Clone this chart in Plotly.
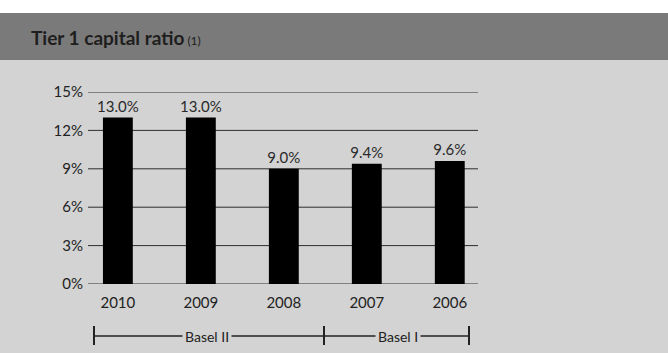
import plotly.graph_objects as go

years = ["2010", "2009", "2008", "2007", "2006"]
tier1_ratio = [13.0, 13.0, 9.0, 9.4, 9.6]
y_ticks = [0, 3, 6, 9, 12, 15]
regimes = ["Basel II", "Basel I"]

BG = "#d3d3d3"
BAND = "#7a7a7a"
FONT = "Lato, 'Open Sans', sans-serif"

W, H = 668, 353
L, R, T, B = 88, 190, 92, 69
plot_h = H - T - B
plot_w = W - L - R


def py(px):
    """pixel row -> paper y"""
    return (H - B - px) / plot_h


def px_x(px):
    """pixel column -> paper x"""
    return (px - L) / plot_w


fig = go.Figure()
fig.add_trace(go.Bar(
    x=list(range(len(years))),
    y=tier1_ratio,
    width=0.36,
    marker=dict(color="black", line=dict(width=0)),
    text=[f"{v:.1f}%" for v in tier1_ratio],
    textposition="outside",
    constraintext="none",
    textfont=dict(size=15, color="#2a2a2a", family=FONT),
    cliponaxis=False,
))

shapes = [
    # white strip above the header
    dict(type="rect", xref="paper", yref="paper", x0=px_x(0), x1=px_x(W),
         y0=py(13), y1=py(0), fillcolor="white", line=dict(width=0), layer="below"),
    # header band
    dict(type="rect", xref="paper", yref="paper", x0=px_x(0), x1=px_x(W),
         y0=py(60), y1=py(13), fillcolor=BAND, line=dict(width=0), layer="below"),
]

# horizontal grid, including the 0% and 15% lines
for v in y_ticks:
    shapes.append(dict(type="line", xref="paper", yref="y", x0=0, x1=1, y0=v, y1=v,
                       line=dict(color="#2e2e2e", width=1), layer="below"))

# regime bracket under the axis
bx = [px_x(94), px_x(324), px_x(469)]
by = py(336)
shapes.append(dict(type="line", xref="paper", yref="paper", x0=bx[0], x1=bx[2],
                   y0=by, y1=by, line=dict(color="#222", width=1.5)))
for x in bx:
    shapes.append(dict(type="line", xref="paper", yref="paper", x0=x, x1=x,
                       y0=py(345), y1=py(326), line=dict(color="#222", width=2)))

annotations = [
    dict(text="<b>Tier 1 capital ratio</b><span style='font-size:12px'> (1)</span>",
         xref="paper", yref="paper", x=px_x(29), y=py(37), xanchor="left", yanchor="middle",
         showarrow=False, font=dict(size=19, color="#1e1e1e", family=FONT)),
    dict(text=regimes[0], xref="paper", yref="paper", x=px_x(207), y=by,
         xanchor="center", yanchor="middle", showarrow=False, bgcolor=BG,
         borderpad=2, font=dict(size=14, color="#222", family=FONT)),
    dict(text=regimes[1], xref="paper", yref="paper", x=px_x(398), y=by,
         xanchor="center", yanchor="middle", showarrow=False, bgcolor=BG,
         borderpad=2, font=dict(size=14, color="#222", family=FONT)),
]

fig.update_layout(
    width=W, height=H,
    margin=dict(l=L, r=R, t=T, b=B),
    paper_bgcolor=BG, plot_bgcolor=BG,
    showlegend=False,
    shapes=shapes,
    annotations=annotations,
    xaxis=dict(
        range=[-0.36, 4.34],
        tickvals=list(range(len(years))), ticktext=years,
        showgrid=False, zeroline=False, showline=False,
        tickfont=dict(size=15, color="#222", family=FONT),
        ticks="", ticklabelstandoff=8, fixedrange=True,
    ),
    yaxis=dict(
        range=[0, 15], tickvals=y_ticks, ticktext=[f"{v}%" for v in y_ticks],
        showgrid=False, zeroline=False, showline=False, ticks="",
        tickfont=dict(size=15, color="#222", family=FONT),
        ticklabelstandoff=4, fixedrange=True,
    ),
)

fig.write_html("out.html")
